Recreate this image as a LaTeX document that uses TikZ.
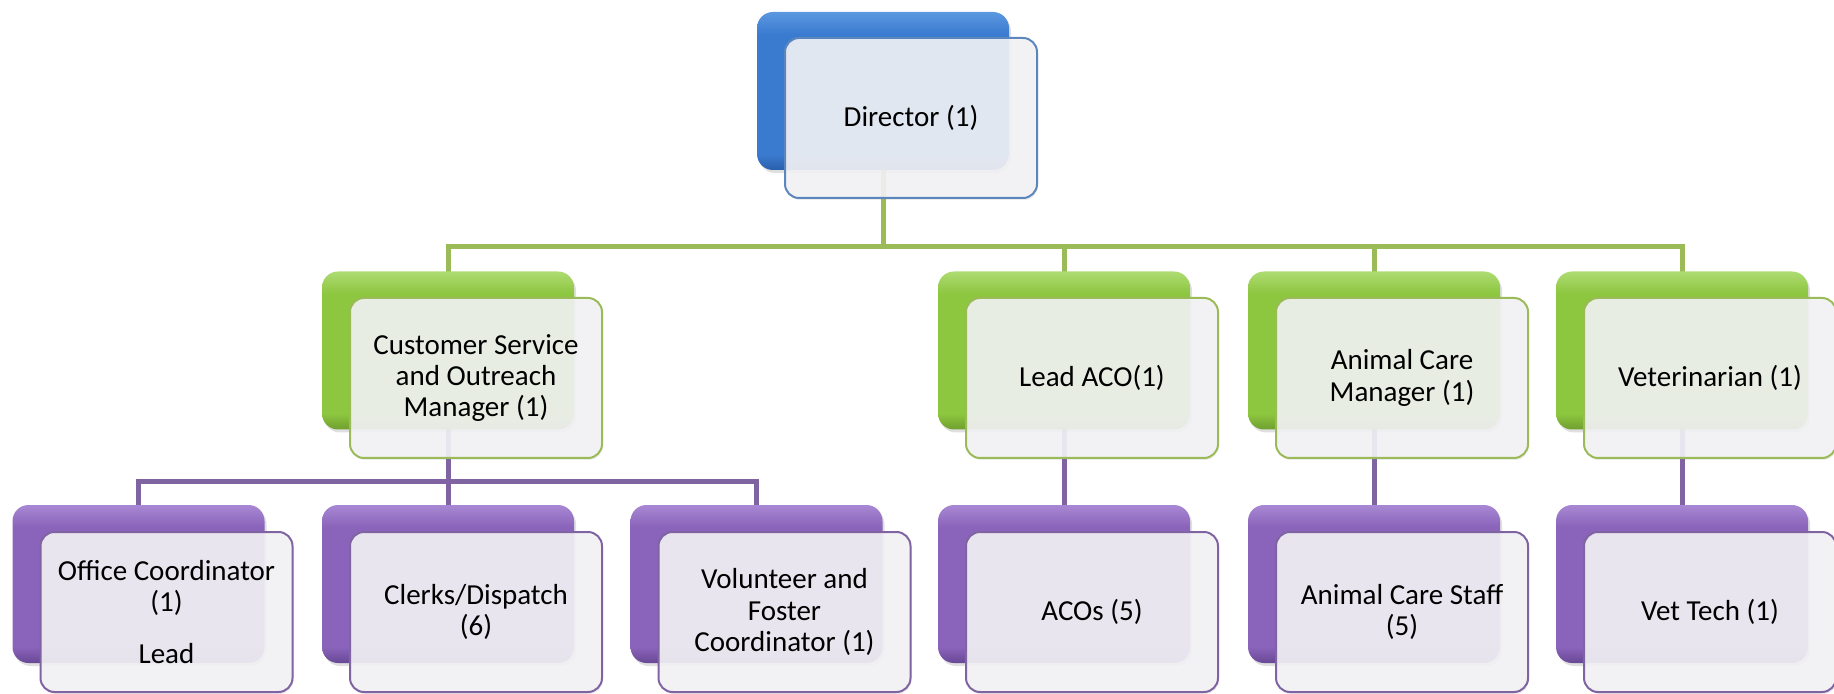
\documentclass[tikz,border=0pt]{standalone}
\usepackage{fontspec}
\setmainfont{Carlito}
\usepackage{tikz}
\usetikzlibrary{shadows}
\definecolor{bluetop}{HTML}{5C98E0}
\definecolor{bluemid}{HTML}{3A7BD0}
\definecolor{bluebot}{HTML}{2A5FAA}
\definecolor{blueedge}{HTML}{5B86BE}
\definecolor{greentop}{HTML}{AEDB72}
\definecolor{greenmid}{HTML}{8DC63F}
\definecolor{greenbot}{HTML}{6F9E2E}
\definecolor{greenedge}{HTML}{9BBB59}
\definecolor{purpletop}{HTML}{A888D4}
\definecolor{purplemid}{HTML}{8A63BA}
\definecolor{purplebot}{HTML}{684896}
\definecolor{purpleedge}{HTML}{8064A2}
\definecolor{cardfill}{HTML}{F3F3F6}
\pgfdeclareverticalshading{blueshade}{100bp}{color(0bp)=(bluebot); color(25bp)=(bluebot); color(30bp)=(bluemid); color(68bp)=(bluemid); color(75bp)=(bluetop); color(100bp)=(bluetop)}
\pgfdeclareverticalshading{greenshade}{100bp}{color(0bp)=(greenbot); color(25bp)=(greenbot); color(30bp)=(greenmid); color(68bp)=(greenmid); color(75bp)=(greentop); color(100bp)=(greentop)}
\pgfdeclareverticalshading{purpleshade}{100bp}{color(0bp)=(purplebot); color(25bp)=(purplebot); color(30bp)=(purplemid); color(68bp)=(purplemid); color(75bp)=(purpletop); color(100bp)=(purpletop)}
\tikzstyle{back}=[rectangle,rounded corners=8pt,minimum width=126pt,minimum height=79pt,inner sep=0pt,drop shadow={shadow xshift=1pt,shadow yshift=-1.5pt,opacity=.25}]
\tikzstyle{blueback}=[back,shading=blueshade]
\tikzstyle{greenback}=[back,shading=greenshade]
\tikzstyle{purpleback}=[back,shading=purpleshade]
\tikzstyle{card}=[rectangle,rounded corners=7pt,minimum width=126pt,minimum height=80pt,inner sep=2pt,fill=cardfill,fill opacity=.9,text opacity=1,line width=1pt,align=center,font=\fontsize{14.5}{15.7}\selectfont,drop shadow={shadow xshift=.5pt,shadow yshift=-1pt,opacity=.15}]
\tikzstyle{bluecard}=[card,draw=blueedge]
\tikzstyle{greencard}=[card,draw=greenedge]
\tikzstyle{purplecard}=[card,draw=purpleedge]
\tikzstyle{greenlink}=[-,draw=greenedge,line width=2.5pt]
\tikzstyle{purplelink}=[-,draw=purpleedge,line width=2.5pt]
\pgfdeclarelayer{edgelayer}
\pgfdeclarelayer{nodelayer}
\pgfsetlayers{edgelayer,nodelayer,main}
\begin{document}
\begin{tikzpicture}[x=0.5pt,y=-0.5pt]
	\useasboundingbox (0,0) rectangle (1834,694);
	\begin{pgfonlayer}{nodelayer}
		% top
		\node [style=blueback] (dirB) at (883, 91) {};
		\node [style=bluecard] (dir) at ([shift={(28,27)}]dirB) {Director (1)};

		% managers
		\node [style=greenback] (csmB) at (448, 350.5) {};
		\node [style=greencard] (csm) at ([shift={(28,27.5)}]csmB) {Customer Service\\and Outreach\\Manager (1)};
		\node [style=greenback] (acoB) at (1064, 350.5) {};
		\node [style=greencard] (aco) at ([shift={(28,27.5)}]acoB) {Lead ACO(1)};
		\node [style=greenback] (acmB) at (1374, 350.5) {};
		\node [style=greencard] (acm) at ([shift={(28,27.5)}]acmB) {Animal Care\\Manager (1)};
		\node [style=greenback] (vetB) at (1682, 350.5) {};
		\node [style=greencard] (vet) at ([shift={(28,27.5)}]vetB) {Veterinarian (1)};

		% staff
		\node [style=purpleback] (ocB) at (138.5, 584) {};
		\node [style=purplecard] (oc) at ([shift={(28,28)}]ocB) {Office Coordinator\\(1)\\[10pt]Lead};
		\node [style=purpleback] (clkB) at (448, 584) {};
		\node [style=purplecard] (clk) at ([shift={(28,28)}]clkB) {Clerks/Dispatch\\(6)};
		\node [style=purpleback] (volB) at (756.5, 584) {};
		\node [style=purplecard] (vol) at ([shift={(28,28)}]volB) {Volunteer and\\Foster\\Coordinator (1)};
		\node [style=purpleback] (acosB) at (1064, 584) {};
		\node [style=purplecard] (acos) at ([shift={(28,28)}]acosB) {ACOs (5)};
		\node [style=purpleback] (acsB) at (1374, 584) {};
		\node [style=purplecard] (acs) at ([shift={(28,28)}]acsB) {Animal Care Staff\\(5)};
		\node [style=purpleback] (vtB) at (1682, 584) {};
		\node [style=purplecard] (vt) at ([shift={(28,28)}]vtB) {Vet Tech (1)};
	\end{pgfonlayer}
	\begin{pgfonlayer}{edgelayer}
		\coordinate (gbus) at (883, 247);
		\coordinate (pbus) at (448, 481);
		\draw [style=greenlink] (dirB.center) to (gbus);
		\draw [style=greenlink] (gbus) -| (csmB.center);
		\draw [style=greenlink] (gbus) -| (acoB.center);
		\draw [style=greenlink] (gbus) -| (acmB.center);
		\draw [style=greenlink] (gbus) -| (vetB.center);
		\draw [style=purplelink] (csmB.center) to (pbus);
		\draw [style=purplelink] (pbus) -| (ocB.center);
		\draw [style=purplelink] (pbus) -| (clkB.center);
		\draw [style=purplelink] (pbus) -| (volB.center);
		\draw [style=purplelink] (acoB.center) to (acosB.center);
		\draw [style=purplelink] (acmB.center) to (acsB.center);
		\draw [style=purplelink] (vetB.center) to (vtB.center);
	\end{pgfonlayer}
\end{tikzpicture}
\end{document}
